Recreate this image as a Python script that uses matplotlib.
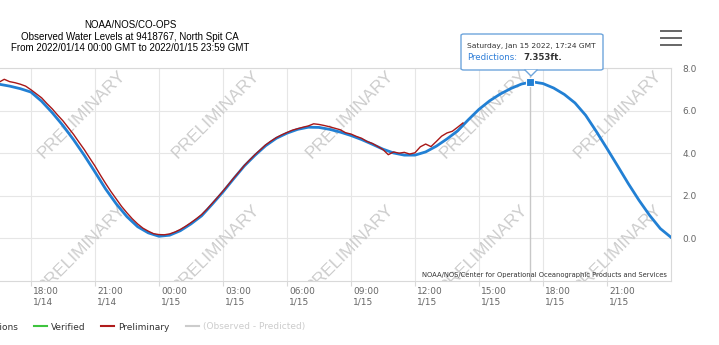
import numpy as np
import pandas as pd
import matplotlib
matplotlib.use('Agg')
import matplotlib.pyplot as plt
import matplotlib.transforms as mtransforms
from matplotlib.lines import Line2D
from matplotlib.patches import FancyBboxPatch, Polygon

# predicted tide (ft), every 30 min
pred_time = pd.date_range('2022-01-14 16:00', '2022-01-16 00:00', freq='30min')
pred_ft = [7.27, 7.24, 7.15, 7.03, 6.87, 6.44, 5.90, 5.30, 4.63, 3.90, 3.12, 2.32,
           1.62, 1.02, 0.55, 0.26,
           0.10, 0.15, 0.36, 0.68, 1.06, 1.61, 2.18, 2.80, 3.40, 3.90, 4.35, 4.70,
           4.94, 5.12, 5.22, 5.21, 5.12, 4.99, 4.83, 4.64, 4.42, 4.19, 4.01, 3.91,
           3.91, 4.06, 4.33, 4.67, 5.05, 5.57, 6.06, 6.46, 6.78, 7.04, 7.25, 7.35,
           7.27, 7.06, 6.76, 6.36, 5.78, 5.02, 4.22, 3.40, 2.57, 1.79, 1.08, 0.46,
           0.05]

# preliminary observed water level (ft), every 15 min
obs_time = pd.date_range('2022-01-14 16:00', '2022-01-15 14:15', freq='15min')
obs_ft = [7.36, 7.40, 7.33, 7.47, 7.36, 7.31, 7.24, 7.15, 6.98, 6.79, 6.60, 6.33,
          6.08, 5.79, 5.52, 5.20, 4.88, 4.52, 4.17, 3.78, 3.40, 2.98, 2.58, 2.20,
          1.85, 1.50, 1.20, 0.92, 0.68, 0.48, 0.34, 0.22,
          0.18, 0.17, 0.21, 0.30, 0.42, 0.57, 0.74, 0.92, 1.12, 1.37, 1.65, 1.93,
          2.22, 2.52, 2.83, 3.12, 3.42, 3.68, 3.93, 4.16, 4.39, 4.57, 4.73, 4.86,
          4.97, 5.08, 5.15, 5.22, 5.28, 5.38, 5.35, 5.30, 5.24, 5.17, 5.10, 4.96,
          4.90, 4.79, 4.70, 4.55, 4.46, 4.32, 4.17, 3.93, 4.06, 4.00, 4.04, 3.96,
          4.02, 4.30, 4.43, 4.31, 4.55, 4.80, 4.95, 5.03, 5.22, 5.42]

peak_time = pd.Timestamp('2022-01-15 17:24')
peak_ft = 7.353

tick_times = pd.date_range('2022-01-14 18:00', '2022-01-15 21:00', freq='3h')
tick_labels = ['18:00\n1/14', '21:00\n1/14', '00:00\n1/15', '03:00\n1/15',
               '06:00\n1/15', '09:00\n1/15', '12:00\n1/15', '15:00\n1/15',
               '18:00\n1/15', '21:00\n1/15']
y_ticks = [0, 2, 4, 6, 8]

legend_names = ['Predictions', 'Verified', 'Preliminary', '(Observed - Predicted)']
legend_colors = ['#2280d4', '#3ec43e', '#b01c1c', '#cccccc']

blue = '#2280d4'
red = '#a81818'

fig = plt.figure(figsize=(7.19, 3.45), dpi=100)
ax = fig.add_axes([0, 1 - 281/345, 671/719, 213/345])

ax.set_xlim(pd.Timestamp('2022-01-14 16:33'), pd.Timestamp('2022-01-16 00:00'))
ax.set_ylim(-2, 8)

ax.grid(True, color='#e6e6e6', linewidth=0.8, zorder=0)
ax.set_axisbelow(True)
for side in ['top', 'right', 'bottom']:
    ax.spines[side].set_color('#d9d9d9')
    ax.spines[side].set_linewidth(0.8)
ax.spines['left'].set_visible(False)

# watermarks
for yy in [0.784, 0.155]:
    for xx in [0.122, 0.322, 0.522, 0.721, 0.921]:
        ax.text(xx, yy, 'PRELIMINARY', transform=ax.transAxes, rotation=45,
                ha='center', va='center', fontsize=12.5, color='#cdcdcd',
                family='Liberation Sans', clip_on=True, zorder=1)

ax.axvline(peak_time, color='#c8c8c8', linewidth=1, zorder=2)

ax.plot(pred_time, pred_ft, color=blue, linewidth=2.0, zorder=3)
ax.plot(obs_time, obs_ft, color=red, linewidth=1.0, zorder=4)
ax.plot([peak_time], [peak_ft], marker='s', markersize=6, markerfacecolor=blue,
        markeredgecolor='white', markeredgewidth=0.8, zorder=6, clip_on=False)

ax.set_xticks(tick_times)
ax.set_xticklabels(tick_labels, ha='left', linespacing=1.2)
ax.tick_params(axis='x', length=3.6, width=0.8, color='#d9d9d9', pad=0.5,
               labelsize=6.5, labelcolor='#666666')
offset = mtransforms.ScaledTranslation(2/100, 0, fig.dpi_scale_trans)
for lab in ax.get_xticklabels():
    lab.set_transform(lab.get_transform() + offset)

ax.yaxis.tick_right()
ax.set_yticks(y_ticks)
ax.set_yticklabels(['%.1f' % v for v in y_ticks])
ax.tick_params(axis='y', length=0, pad=8.5, labelsize=6.5, labelcolor='#666666')

ax.text(0.994, 0.028, 'NOAA/NOS/Center for Operational Oceanographic Products and Services',
        transform=ax.transAxes, ha='right', va='center', fontsize=4.9, color='#333333',
        zorder=5)

# title
fig.text(130/719, 1 - 36.5/345,
         'NOAA/NOS/CO-OPS\nObserved Water Levels at 9418767, North Spit CA\n'
         'From 2022/01/14 00:00 GMT to 2022/01/15 23:59 GMT',
         ha='center', va='center', fontsize=7.0, family='Liberation Sans',
         linespacing=1.2, color='#000000')

# legend (left part cut off like the original)
handles = [Line2D([], [], color=c, linewidth=1.5) for c in legend_colors]
leg = fig.legend(handles, legend_names, loc='center left',
                 bbox_to_anchor=(-49/719, 1 - 327/345), ncol=4, frameon=False,
                 fontsize=6.5, handlelength=1.44, handletextpad=0.44,
                 columnspacing=1.77, borderpad=0, borderaxespad=0)
for txt, c in zip(leg.get_texts(), ['#333333', '#333333', '#333333', '#cccccc']):
    txt.set_color(c)

# tooltip
tip_ec = '#6ea5dc'
box = FancyBboxPatch((461/719, 1 - 70/345), 142/719, 36/345,
                     boxstyle='round,pad=0,rounding_size=0.004',
                     transform=fig.transFigure, facecolor='white',
                     edgecolor=tip_ec, linewidth=1, zorder=10)
fig.patches.append(box)
tri = Polygon([(525/719, 1 - 70/345), (537/719, 1 - 70/345), (531/719, 1 - 76/345)],
              closed=True, transform=fig.transFigure, facecolor='white',
              edgecolor='none', zorder=11)
fig.patches.append(tri)
fig.lines.append(Line2D([525/719, 531/719, 537/719], [1 - 70/345, 1 - 76/345, 1 - 70/345],
                        transform=fig.transFigure, color=tip_ec, linewidth=1, zorder=12))
fig.text(467/719, 1 - 46/345, 'Saturday, Jan 15 2022, 17:24 GMT', fontsize=5.4,
         color='#333333', va='center', zorder=13)
fig.text(467/719, 1 - 57.5/345, 'Predictions:', fontsize=6.2, color='#2f7ed8',
         va='center', zorder=13)
fig.text(523/719, 1 - 57.5/345, '%.3fft.' % peak_ft, fontsize=6.2, color='#333333',
         weight='bold', va='center', zorder=13)

# menu icon
for yy in [31, 38, 45]:
    fig.lines.append(Line2D([661/719, 681/719], [1 - yy/345, 1 - yy/345],
                            transform=fig.transFigure, color='#666666', linewidth=1.4))

fig.savefig('out.png', dpi=100)
